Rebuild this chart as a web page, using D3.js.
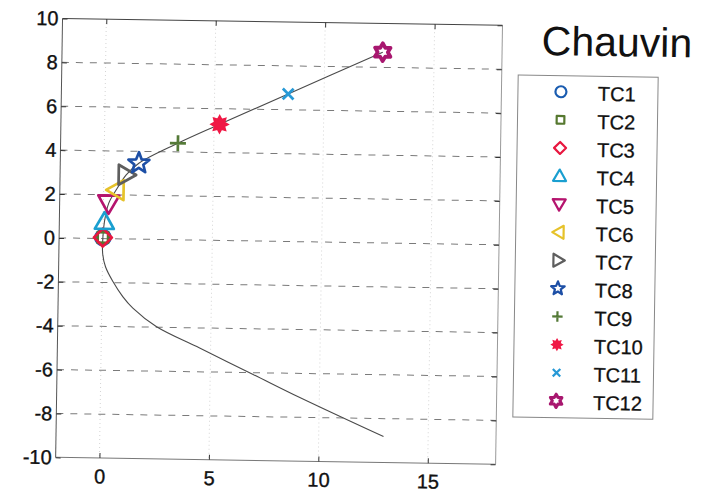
<!DOCTYPE html>
<html><head><meta charset="utf-8">
<script src="https://cdn.jsdelivr.net/npm/d3@7"></script>
<style>body{margin:0;background:#fff}svg{display:block}text{font-family:"Liberation Sans",Arial,sans-serif}</style>
</head><body><svg id="c" width="704" height="493"></svg>
<script>
// ---- data ----
const seriesNames = ["TC1","TC2","TC3","TC4","TC5","TC6","TC7","TC8","TC9","TC10","TC11","TC12"];
const seriesX = [0.0, 0.0, 0.0, 0.06, 0.24, 0.57, 1.02, 1.59, 3.36, 5.25, 8.36, 12.65];
const seriesY = [0.05, 0.05, 0.05, 0.77, 1.61, 2.22, 2.92, 3.46, 4.40, 5.29, 6.72, 8.69];
const seriesShape = ["circle","square","diamond","triUp","triDown","triLeft","triRight","star","plus","asterisk","cross","hexagram"];
const seriesColor = ["#1a5cb0","#56782f","#e8173f","#1a9fd0","#b5146e","#e6c22a","#5e5e5e","#1d4fa6","#547a37","#f01845","#2799d6","#a8176f"];
// lower branch of the trajectory (from far end to origin)
const lowerX = [12.96, 9.11, 6.96, 4.5, 2.5, 1.42, 0.95, 0.49, 0.14, 0.0];
const lowerY = [-8.82, -7.1, -6.08, -4.92, -3.97, -3.15, -2.63, -1.95, -1.28, -0.67];
const xTicks = [0, 5, 10, 15];
const yTicks = [-10, -8, -6, -4, -2, 0, 2, 4, 6, 8, 10];
const title = "Chauvin";

// ---- layout ----
const svg = d3.select("#c");
const root = svg.append("g").attr("transform","rotate(0.9,352,246)");
const L = 59, R = 499, T = 23, B = 462;
const x = d3.scaleLinear().domain([-2, 18.1]).range([L, R]);
const y = d3.scaleLinear().domain([-10, 10]).range([B, T]);
const fmt = d => String(d);

// vertical faint grid
root.append("g").selectAll("line").data(xTicks).join("line")
  .attr("x1", d=>x(d)).attr("x2", d=>x(d)).attr("y1", T).attr("y2", B)
  .attr("stroke","#d4d4d4").attr("stroke-width",1).attr("stroke-dasharray","1,3");
// horizontal dashed grid
root.append("g").selectAll("line").data(yTicks.filter(d=>d>-10&&d<10)).join("line")
  .attr("x1", L).attr("x2", R).attr("y1", d=>y(d)).attr("y2", d=>y(d))
  .attr("stroke","#7a7a7a").attr("stroke-width",1).attr("stroke-dasharray","7,7");

// box
root.append("line").attr("x1",L).attr("x2",R).attr("y1",T).attr("y2",T).attr("stroke","#444");
root.append("line").attr("x1",L).attr("x2",L).attr("y1",T).attr("y2",B).attr("stroke","#555");
root.append("line").attr("x1",L).attr("x2",R).attr("y1",B).attr("y2",B).attr("stroke","#777");
root.append("line").attr("x1",R).attr("x2",R).attr("y1",T).attr("y2",B).attr("stroke","#999");

// axes (ticks inward)
const ax = d3.axisBottom(x).tickValues(xTicks).tickSize(-5).tickFormat(fmt);
const gx = root.append("g").attr("transform",`translate(0,${B})`).call(ax);
const axT = d3.axisTop(x).tickValues(xTicks).tickSize(-5).tickFormat("");
root.append("g").attr("transform",`translate(0,${T})`).call(axT);
const ay = d3.axisLeft(y).tickValues(yTicks).tickSize(-5).tickFormat(fmt);
const gy = root.append("g").attr("transform",`translate(${L},0)`).call(ay);
const ayR = d3.axisRight(y).tickValues(yTicks).tickSize(-5).tickFormat("");
root.append("g").attr("transform",`translate(${R},0)`).call(ayR);
root.selectAll(".domain").remove();
root.selectAll(".tick line").attr("stroke","#333");
gx.selectAll("text").attr("font-size",20).attr("fill","#111").attr("stroke","#111").attr("stroke-width",0.35).attr("dy","0.71em").attr("y",11);
gy.selectAll("text").attr("font-size",20).attr("fill","#111").attr("stroke","#111").attr("stroke-width",0.35).attr("x",-4);

// trajectory line
const pathX = lowerX.concat(seriesX.slice(2));
const pathY = lowerY.concat(seriesY.slice(2));
const line = d3.line().x(i=>x(pathX[i])).y(i=>y(pathY[i])).curve(d3.curveCatmullRom.alpha(0.5));
root.append("path").attr("d", line(d3.range(pathX.length)))
  .attr("fill","none").attr("stroke","#4a4a4a").attr("stroke-width",1.1);

// marker paths
function starPath(n, ro, ri, rot){
  const p = d3.path();
  for(let k=0;k<2*n;k++){
    const r = k%2===0?ro:ri;
    const a = rot + Math.PI*k/n;
    const px = r*Math.sin(a), py = -r*Math.cos(a);
    if(k===0)p.moveTo(px,py);else p.lineTo(px,py);
  }
  p.closePath(); return p.toString();
}
function shapePath(t, s){
  switch(t){
    case "circle": return `M${s},0A${s},${s} 0 1,1 ${-s},0A${s},${s} 0 1,1 ${s},0Z`;
    case "square": { const h=s*0.8; return `M${-h},${-h}H${h}V${h}H${-h}Z`; }
    case "diamond": return `M0,${-s}L${s},0L0,${s}L${-s},0Z`;
    case "triUp": return `M0,${-s}L${s},${s*0.75}L${-s},${s*0.75}Z`;
    case "triDown": return `M0,${s}L${s},${-s*0.75}L${-s},${-s*0.75}Z`;
    case "triLeft": return `M${-s},0L${s*0.75},${-s}L${s*0.75},${s}Z`;
    case "triRight": return `M${s},0L${-s*0.75},${-s}L${-s*0.75},${s}Z`;
    case "star": return starPath(5, s*1.05, s*0.45, 0);
    case "plus": return `M${-s},0H${s}M0,${-s}V${s}`;
    case "asterisk": return starPath(8, s, s*0.62, 0);
    case "cross": { const h=s*0.72; return `M${-h},${-h}L${h},${h}M${h},${-h}L${-h},${h}`; }
    case "hexagram": return starPath(6, s*1.05, s*0.6, 0);
  }
}
function styleMarker(sel, i, sw){
  const t = seriesShape[i];
  if(t==="asterisk") sel.attr("fill", seriesColor[i]).attr("stroke", seriesColor[i]).attr("stroke-width", sw*0.6);
  else sel.attr("fill","none").attr("stroke", seriesColor[i]).attr("stroke-width", t==="hexagram"?sw*1.4:sw).attr("stroke-linejoin","round");
}
const plotSize = [7.5,6.5,9,9.5,10.5,10,10,10.5,8,8.5,7.5,8.5];
const mk = root.append("g");
seriesNames.forEach((n,i)=>{
  const p = mk.append("path");
  styleMarker(p, i, 2.7);
  p.attr("d", shapePath(seriesShape[i], plotSize[i]))
   .attr("transform",`translate(${x(seriesX[i])},${y(seriesY[i])})`);
});

// title
root.append("text").attr("x",538.5).attr("y",52).attr("font-size",41).attr("fill","#111").text(title);

// legend
const lg = root.append("g");
lg.append("rect").attr("x",515.5).attr("y",72.5).attr("width",140).attr("height",342)
  .attr("fill","#fff").attr("stroke","#888").attr("stroke-width",1);
const legSize = [5.5,4.8,6,6.5,6.5,6.5,6.5,6.8,5.2,5.3,5.2,6.3];
seriesNames.forEach((n,i)=>{
  const cy = 88.5 + 28.1*i;
  const p = lg.append("path");
  styleMarker(p, i, 2.2);
  p.attr("d", shapePath(seriesShape[i], legSize[i])).attr("transform",`translate(558.5,${cy})`);
  lg.append("text").attr("x",595.5).attr("y",cy+8.5).attr("font-size",20).attr("fill","#111")
    .attr("stroke","#111").attr("stroke-width",0.3).text(n);
});
</script></body></html>
